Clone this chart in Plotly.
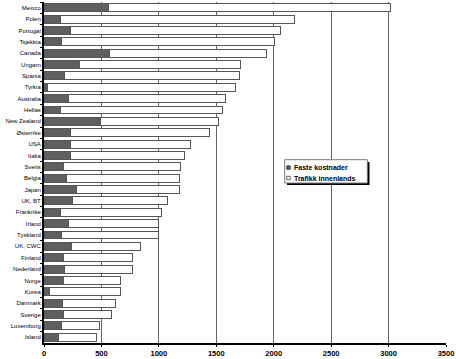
import plotly.graph_objects as go

countries = ["Mexico", "Polen", "Portugal", "Tsjekkia", "Canada", "Ungarn", "Spania", "Tyrkia",
             "Australia", "Hellas", "New Zealand", "Østerrike", "USA", "Italia", "Sveits", "Belgia",
             "Japan", "UK, BT", "Frankrike", "Irland", "Tyskland", "UK, CWC", "Finland", "Nederland",
             "Norge", "Korea", "Danmark", "Sverige", "Luxemburg", "Island"]
faste = [560, 140, 227, 149, 566, 305, 181, 33, 216, 140, 494, 233, 227, 227, 169, 198,
         285, 247, 140, 216, 149, 242, 169, 177, 171, 47, 163, 171, 154, 125]
totals = [3020, 2180, 2060, 2003, 1937, 1708, 1699, 1668, 1581, 1555, 1517, 1438, 1277, 1224, 1190, 1181,
          1178, 1073, 1024, 1000, 995, 838, 769, 769, 664, 664, 624, 586, 482, 459]
trafikk = [t - f for t, f in zip(totals, faste)]
x_ticks = [0, 500, 1000, 1500, 2000, 2500, 3000, 3500]
series_names = ["Faste kostnader", "Trafikk innenlands"]

dark = "#5f5f5f"
edge = "#555555"
font = "Liberation Sans, Arial, sans-serif"

fig = go.Figure()
fig.add_trace(go.Bar(y=countries, x=faste, orientation="h", name=series_names[0],
                     marker=dict(color=dark, line=dict(color=edge, width=1))))
fig.add_trace(go.Bar(y=countries, x=trafikk, orientation="h", name=series_names[1],
                     marker=dict(color="white", line=dict(color=edge, width=1))))

W, H = 456, 359
ml, mr, mt, mb = 44, 10, 2, 16
pw, ph = W - ml - mr, H - mt - mb

def px(x):
    return (x - ml) / pw

def py(y):
    return 1 - (y - mt) / ph

def rect(x0, y0, x1, y1, fill, line_color=None, lw=0):
    fig.add_shape(type="rect", xref="paper", yref="paper",
                  x0=px(x0), x1=px(x1), y0=py(y1), y1=py(y0),
                  fillcolor=fill, line=dict(color=line_color or fill, width=lw), layer="above")

# legend (drawn by hand to match the compact box with drop shadow)
rect(287, 162, 369.5, 185, "black")
rect(284.7, 159.7, 367.3, 183, "white", "#7a7a7a", 1)
rect(286.7, 165.8, 290.2, 169.3, dark, "black", 0.6)
rect(286.7, 176.3, 290.2, 179.8, "white", "black", 0.6)
for name, yc in zip(series_names, [167.6, 178.1]):
    fig.add_annotation(xref="paper", yref="paper", x=px(292.3), y=py(yc), text=name,
                       showarrow=False, xanchor="left", yanchor="middle",
                       font=dict(family=font, size=7, color="black", weight="bold"))

fig.update_layout(
    width=W, height=H, barmode="stack", bargap=0.3,
    margin=dict(l=ml, r=mr, t=mt, b=mb),
    plot_bgcolor="white", paper_bgcolor="white",
    font=dict(family=font, size=6, color="black"),
    showlegend=False,
    xaxis=dict(range=[0, 3500], tickvals=x_ticks, ticktext=[str(v) for v in x_ticks],
               showgrid=True, gridcolor="#666666", gridwidth=1,
               showline=True, linecolor="black", linewidth=2, zeroline=False,
               ticks="outside", ticklen=2, tickcolor="black",
               tickfont=dict(family=font, size=7.5, color="black", weight="bold")),
    yaxis=dict(categoryorder="array", categoryarray=countries, autorange="reversed",
               showline=True, linecolor="black", linewidth=2, showgrid=False,
               ticks="outside", ticklen=2, tickson="boundaries", tickcolor="black",
               tickfont=dict(family=font, size=6, color="black")),
)
fig.write_html("out.html", config={"displayModeBar": False},
               post_script="document.body.style.margin='0';")
